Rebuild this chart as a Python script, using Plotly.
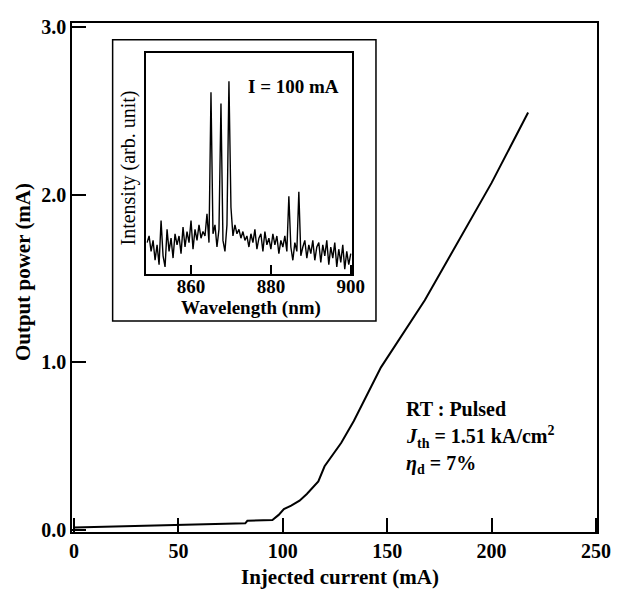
import plotly.graph_objects as go

# Main L-I curve
current_mA = [0, 20, 50, 70, 82, 83, 90, 95, 98, 100.5, 104, 108, 111.5, 117, 120, 124, 128, 134, 147, 168, 188, 200, 217.5]
power = [0.015, 0.02, 0.03, 0.035, 0.04, 0.055, 0.058, 0.06, 0.09, 0.125, 0.145, 0.175, 0.215, 0.29, 0.38, 0.45, 0.52, 0.65, 0.97, 1.37, 1.81, 2.07, 2.49]

# Inset spectrum (wavelength grid from 849 nm in 0.5 nm steps)
intensity = [14, 17, 10, 15, 6, 13, 4, 24, 8, 3,
             20, 10, 16, 7, 18, 13, 17, 9, 21, 12,
             19, 14, 24, 11, 20, 15, 22, 16, 19, 17,
             27, 14, 82, 18, 22, 12, 20, 77, 15, 10,
             22, 87, 30, 17, 22, 18, 20, 16, 19, 15,
             17, 12, 18, 14, 20, 11, 16, 18, 10, 19,
             13, 16, 11, 18, 13, 17, 9, 15, 12, 17,
             10, 35, 12, 6, 14, 10, 37, 8, 12, 15,
             7, 13, 9, 15, 6, 12, 14, 5, 13, 8,
             15, 4, 12, 7, 14, 3, 11, 5, 13, 2,
             10, 4, 9]
wavelength = [849 + 0.5 * i for i in range(len(intensity))]

x_ticks = [0, 50, 100, 150, 200, 250]
y_ticks = [0, 1, 2, 3]
y_ticklabels = ["0.0", "1.0", "2.0", "3.0"]
inset_ticks = [860, 880, 900]

FONT = "Liberation Serif"
BFONT = dict(family=FONT, size=20, color="black")

fig = go.Figure()
fig.add_trace(go.Scatter(x=current_mA, y=power, mode="lines",
                         line=dict(color="black", width=2), xaxis="x", yaxis="y",
                         showlegend=False, hoverinfo="skip"))
fig.add_trace(go.Scatter(x=wavelength, y=intensity, mode="lines",
                         line=dict(color="black", width=1.4), xaxis="x2", yaxis="y2",
                         showlegend=False, hoverinfo="skip"))

fig.update_layout(
    width=611, height=587,
    margin=dict(l=64, r=17, t=8, b=63),
    paper_bgcolor="white", plot_bgcolor="white",
    font=dict(family=FONT, color="black"),
    xaxis=dict(domain=[0, 1], range=[-1, 250.5], anchor="y",
               tickvals=x_ticks, ticks="inside", ticklen=14, tickwidth=1.5,
               tickcolor="black", showline=True, linecolor="black", linewidth=1.5,
               mirror=True, showgrid=False, zeroline=False,
               tickfont=dict(family=FONT, size=20, color="black", weight="bold")),
    yaxis=dict(domain=[0, 1], range=[-0.012, 3.0235], anchor="x",
               tickvals=y_ticks, ticktext=y_ticklabels, ticks="inside", ticklen=14,
               tickwidth=1.5, tickcolor="black", showline=True, linecolor="black",
               linewidth=1.5, mirror=True, showgrid=False, zeroline=False,
               tickfont=dict(family=FONT, size=20, color="black", weight="bold")),
    xaxis2=dict(domain=[0.1415, 0.534], range=[848.8, 900.4], anchor="y2",
                tickvals=inset_ticks, ticks="inside", ticklen=9, tickwidth=1.5,
                tickcolor="black", showline=True, linecolor="black", linewidth=1.5,
                mirror=True, showgrid=False, zeroline=False, ticklabelstandoff=-5,
                tickfont=dict(family=FONT, size=19, color="black", weight="bold")),
    yaxis2=dict(domain=[0.5078, 0.9419], range=[0, 100], anchor="x2",
                showticklabels=False, ticks="", showline=True, linecolor="black",
                linewidth=1.5, mirror=True, showgrid=False, zeroline=False),
    shapes=[dict(type="rect", xref="paper", yref="paper",
                 x0=0.0774, x1=0.579, y0=0.4147, y1=0.967,
                 line=dict(color="black", width=1.5), fillcolor="white", layer="below")],
)

ann = []
ann.append(dict(text="<b>Injected current (mA)</b>", x=0.511, y=-0.089, xref="paper", yref="paper",
                xanchor="center", yanchor="middle", showarrow=False, font=dict(family=FONT, size=21, color="black")))
ann.append(dict(text="<b>Output power (mA)</b>", x=-0.0943, y=0.5116, xref="paper", yref="paper",
                xanchor="center", yanchor="middle", textangle=-90, showarrow=False,
                font=dict(family=FONT, size=21, color="black")))
ann.append(dict(text="<b>I = 100 mA</b>", x=0.4226, y=0.876, xref="paper", yref="paper",
                xanchor="center", yanchor="middle", showarrow=False, font=dict(family=FONT, size=19, color="black")))
ann.append(dict(text="<b>Wavelength (nm)</b>", x=0.3415, y=0.440, xref="paper", yref="paper",
                xanchor="center", yanchor="middle", showarrow=False, font=dict(family=FONT, size=19, color="black")))
ann.append(dict(text="Intensity (arb. unit)", x=0.1075, y=0.715, xref="paper", yref="paper",
                xanchor="center", yanchor="middle", textangle=-90, showarrow=False,
                font=dict(family=FONT, size=20, color="black")))
ann.append(dict(text="<b>RT : Pulsed</b>", x=0.632, y=0.2422, xref="paper", yref="paper",
                xanchor="left", yanchor="middle", showarrow=False, font=BFONT))
ann.append(dict(text="<b><i>J</i><sub>th</sub> = 1.51 kA/cm<sup>2</sup></b>", x=0.632, y=0.186,
                xref="paper", yref="paper", xanchor="left", yanchor="middle", showarrow=False, font=BFONT))
ann.append(dict(text="<b><i>η</i><sub>d</sub> = 7%</b>", x=0.632, y=0.1318, xref="paper", yref="paper",
                xanchor="left", yanchor="middle", showarrow=False, font=BFONT))
fig.update_layout(annotations=ann)

fig.write_html("out.html")
